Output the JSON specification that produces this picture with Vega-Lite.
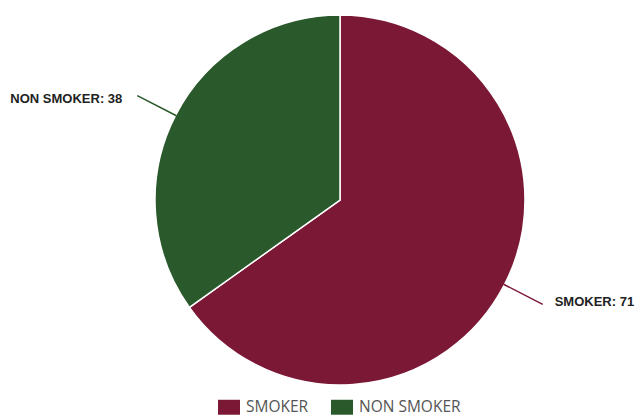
{
  "$schema": "https://vega.github.io/schema/vega-lite/v6.json",
  "width": 680,
  "height": 400,
  "autosize": "none",
  "padding": {"left": 0, "top": 0, "right": 0, "bottom": 17},
  "background": "white",
  "config": {"view": {"stroke": null}},
  "data": {"values": [
    {"label": "SMOKER", "value": 71},
    {"label": "NON SMOKER", "value": 38}
  ]},
  "transform": [
    {"stack": "value", "groupby": [], "as": ["start", "end"], "sort": [{"field": "label", "order": "descending"}]},
    {"calculate": "(datum.start + datum.end) / 2", "as": "mid"},
    {"calculate": "datum.label + ': ' + datum.value", "as": "label_text"}
  ],
  "encoding": {
    "color": {
      "field": "label", "type": "nominal",
      "scale": {"domain": ["SMOKER", "NON SMOKER"], "range": ["#7b1836", "#2a5a2b"]},
      "legend": {
        "title": null, "orient": "none", "direction": "horizontal",
        "legendX": 218, "legendY": 396,
        "symbolType": "M-1,-0.68L1,-0.68L1,0.68L-1,0.68Z",
        "symbolSize": 484, "symbolStrokeWidth": 0,
        "labelFont": "Open Sans", "labelFontSize": 15.5, "labelColor": "#555555",
        "labelOffset": 6, "columnPadding": 22
      }
    }
  },
  "layer": [
    {
      "mark": {"type": "arc", "outerRadius": 185, "stroke": "white", "strokeWidth": 1.5},
      "encoding": {
        "theta": {"field": "start", "type": "quantitative", "stack": null, "scale": {"domain": [0, 109]}},
        "theta2": {"field": "end"}
      }
    },
    {
      "mark": {"type": "arc", "innerRadius": 184, "outerRadius": 228, "filled": false, "strokeWidth": 1.5},
      "encoding": {
        "theta": {"field": "mid", "type": "quantitative", "stack": null},
        "theta2": {"field": "mid"}
      }
    },
    {
      "transform": [{"filter": "datum.label == 'SMOKER'"}],
      "mark": {"type": "text", "radius": 228, "dx": 12, "dy": -2, "align": "left", "baseline": "middle", "font": "Liberation Sans", "fontWeight": "bold", "fontSize": 13},
      "encoding": {
        "theta": {"field": "mid", "type": "quantitative", "stack": null},
        "text": {"field": "label_text", "type": "nominal"},
        "color": {"value": "#222222"}
      }
    },
    {
      "transform": [{"filter": "datum.label == 'NON SMOKER'"}],
      "mark": {"type": "text", "radius": 228, "dx": -15, "dy": 3, "align": "right", "baseline": "middle", "font": "Liberation Sans", "fontWeight": "bold", "fontSize": 13},
      "encoding": {
        "theta": {"field": "mid", "type": "quantitative", "stack": null},
        "text": {"field": "label_text", "type": "nominal"},
        "color": {"value": "#222222"}
      }
    }
  ]
}
